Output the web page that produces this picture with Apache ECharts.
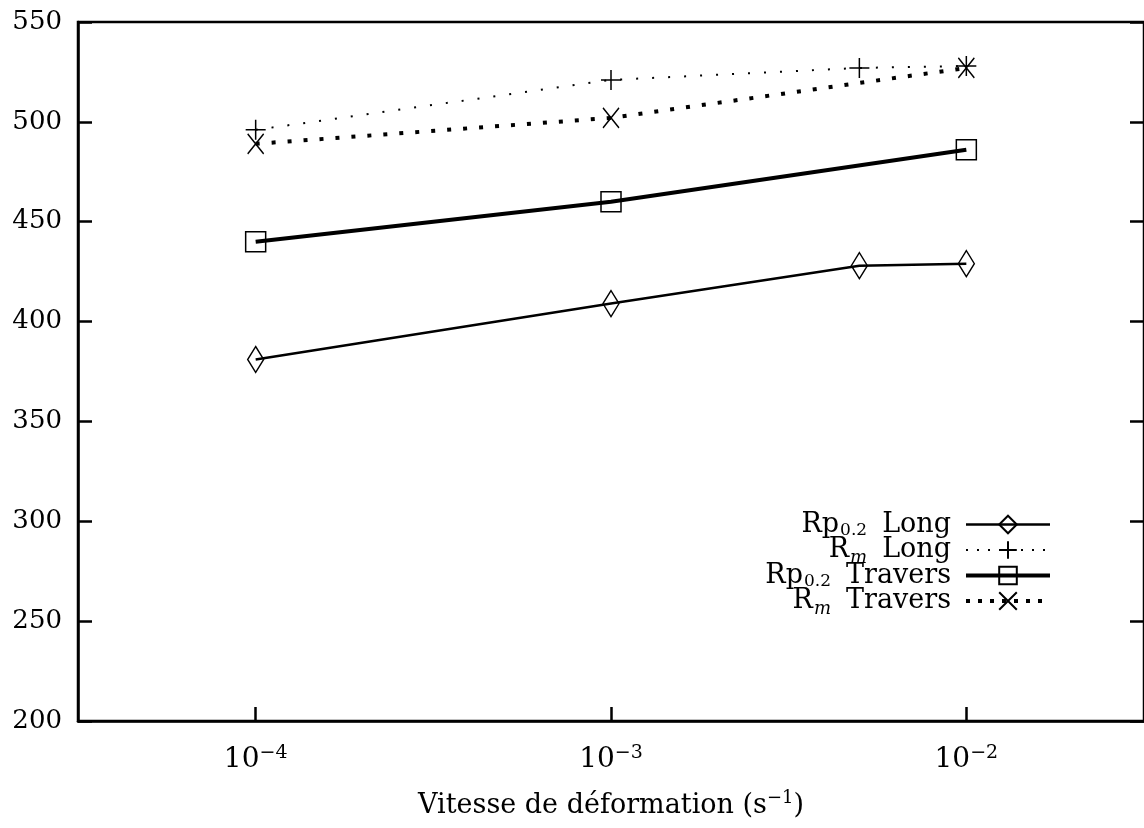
<!DOCTYPE html>
<html>
<head>
<meta charset="utf-8">
<script src="https://cdn.jsdelivr.net/npm/echarts@6/dist/echarts.min.js"></script>
<style>
html, body { margin: 0; padding: 0; background: #fff; }
#main { width: 1144px; height: 828px; }
</style>
</head>
<body>
<div id="main"></div>
<script>
// strain rates (s^-1)
var ratesLong = [1e-4, 1e-3, 5e-3, 1e-2];
var ratesTravers = [1e-4, 1e-3, 1e-2];
// stresses (MPa)
var rpLong = [381, 409, 428, 429];
var rmLong = [496, 521, 527, 528];
var rpTravers = [440, 460, 486];
var rmTravers = [489, 502, 527];
var seriesNames = ['Rp0.2 Long', 'Rm Long', 'Rp0.2 Travers', 'Rm Travers'];

var FONT = 'DejaVu Serif';

function pairs(xs, ys) {
    var out = [];
    for (var i = 0; i < xs.length; i++) out.push([xs[i], ys[i]]);
    return out;
}

var legendLabels = {
    'Rp0.2 Long': '{b|Rp}{sub|0.2}{b|Long}',
    'Rm Long': '{b|R}{subi|m}{b|Long}',
    'Rp0.2 Travers': '{b|Rp}{sub|0.2}{b|Travers}',
    'Rm Travers': '{b|R}{subi|m}{b|Travers}'
};

var symDiamond = 'path://M10,0L20,10L10,20L0,10Z';
var symSquare = 'path://M0,0L20,0L20,20L0,20Z';
var symPlus = 'path://M10,0L10,20M0,10L20,10';
var symCross = 'path://M0,0L20,20M20,0L0,20';

var markStyle = { color: 'rgba(0,0,0,0)', borderColor: '#000', borderWidth: 1.5 };

var dom = document.getElementById('main');
var myChart = echarts.init(dom);
var option = {
    backgroundColor: '#fff',
    animation: false,
    grid: {
        left: 78, right: 0, top: 22, bottom: 107,
        show: true, borderColor: '#000', borderWidth: 2.5,
        outerBoundsMode: 'none'
    },
    legend: {
        orient: 'vertical',
        right: 92,
        top: 510,
        align: 'right',
        itemWidth: 84,
        itemHeight: 22,
        itemGap: -6,
        padding: 0,
        data: [
            { name: seriesNames[0], lineStyle: { width: 2.5, type: 'solid' } },
            { name: seriesNames[1], lineStyle: { width: 2, type: [2, 9] } },
            { name: seriesNames[2], lineStyle: { width: 4, type: 'solid' } },
            { name: seriesNames[3], lineStyle: { width: 4, type: [4, 8] } }
        ],
        formatter: function (name) { return legendLabels[name]; },
        textStyle: {
            fontFamily: FONT, fontSize: 27, color: '#000', lineHeight: 24, padding: [0, 10, 0, 0],
            rich: {
                b: { fontFamily: FONT, fontSize: 27, lineHeight: 24, color: '#000' },
                sub: { fontFamily: FONT, fontSize: 17, lineHeight: 24, color: '#000', padding: [12, 15, 0, 1] },
                subi: { fontFamily: FONT, fontSize: 18, lineHeight: 24, fontStyle: 'italic', color: '#000', padding: [16, 15, 0, 1] }
            }
        }
    },
    xAxis: {
        type: 'log',
        logBase: 10,
        min: Math.pow(10, -4.5),
        max: Math.pow(10, -1.5),
        name: '{b|Vitesse de déformation (s}{sup|−1}{b|)}',
        nameLocation: 'middle',
        nameGap: 70,
        nameTextStyle: {
            fontFamily: FONT, fontSize: 27, color: '#000', lineHeight: 30,
            rich: {
                b: { fontFamily: FONT, fontSize: 27, lineHeight: 30, color: '#000' },
                sup: { fontFamily: FONT, fontSize: 18, lineHeight: 30, color: '#000', padding: [0, 0, 16, 0] }
            }
        },
        axisLine: { lineStyle: { color: '#000', width: 2.5 } },
        axisTick: { inside: true, length: 14, lineStyle: { color: '#000', width: 2.5 } },
        splitLine: { show: false },
        minorTick: { show: false },
        axisLabel: {
            margin: 24,
            fontFamily: FONT, fontSize: 28, color: '#000', lineHeight: 30,
            showMinLabel: false, showMaxLabel: false,
            formatter: function (v) {
                var e = Math.log10(v);
                if (Math.abs(e - Math.round(e)) > 1e-6) return '';
                return '{b|10}{sup|−' + Math.abs(Math.round(e)) + '}';
            },
            rich: {
                b: { fontFamily: FONT, fontSize: 28, lineHeight: 30, color: '#000' },
                sup: { fontFamily: FONT, fontSize: 19, lineHeight: 30, color: '#000', padding: [0, 0, 14, 0] }
            }
        }
    },
    yAxis: [{
        type: 'value',
        min: 200, max: 550, interval: 50,
        axisLine: { show: true, lineStyle: { color: '#000', width: 2.5 } },
        axisTick: { inside: true, length: 14, lineStyle: { color: '#000', width: 2.5 } },
        splitLine: { show: false },
        axisLabel: { margin: 16, fontFamily: FONT, fontSize: 26, color: '#000' }
    }, {
        type: 'value',
        position: 'right',
        min: 200, max: 550, interval: 50,
        axisLine: { show: false },
        axisTick: { show: true, inside: true, length: 14, lineStyle: { color: '#000', width: 2.5 } },
        splitLine: { show: false },
        axisLabel: { show: false }
    }],
    series: [{
        name: seriesNames[0],
        type: 'line',
        data: pairs(ratesLong, rpLong),
        symbol: symDiamond,
        symbolSize: [16, 26],
        itemStyle: markStyle,
        lineStyle: { color: '#000', width: 2.5, type: 'solid' },
        z: 3
    }, {
        name: seriesNames[1],
        type: 'line',
        data: pairs(ratesLong, rmLong),
        symbol: symPlus,
        symbolSize: [20, 20],
        itemStyle: markStyle,
        lineStyle: { color: '#000', width: 2, type: [2, 14] },
        z: 3
    }, {
        name: seriesNames[2],
        type: 'line',
        data: pairs(ratesTravers, rpTravers),
        symbol: symSquare,
        symbolSize: [20, 20],
        itemStyle: markStyle,
        lineStyle: { color: '#000', width: 4, type: 'solid' },
        z: 3
    }, {
        name: seriesNames[3],
        type: 'line',
        data: pairs(ratesTravers, rmTravers),
        symbol: symCross,
        symbolSize: [16, 20],
        itemStyle: markStyle,
        lineStyle: { color: '#000', width: 4, type: [4, 12] },
        z: 3
    }]
};
if (option && typeof option === 'object') {
    myChart.setOption(option, true);
}
</script>
</body>
</html>
